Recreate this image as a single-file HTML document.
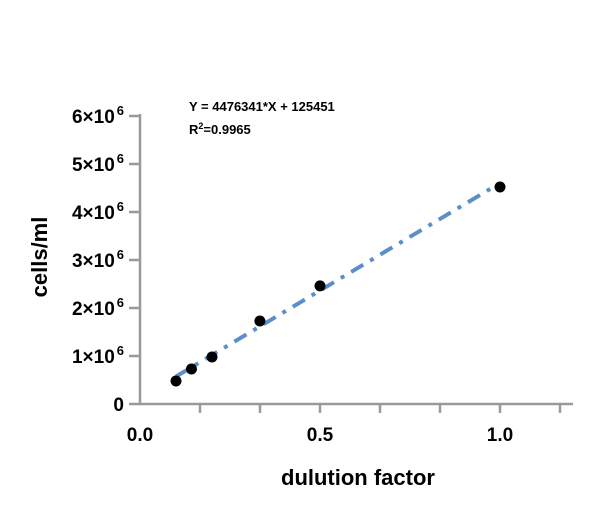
<!DOCTYPE html>
<html><head><meta charset="utf-8"><style>
body{margin:0;background:#fff;}
svg{display:block;font-family:"Liberation Sans",Arial,sans-serif;font-weight:bold;}
</style></head><body>
<svg id="chart" width="607" height="505">
<g id="axes"></g><g id="fit"></g><g id="pts"></g>
<text x="189" y="111" font-size="13" fill="#000">Y = 4476341*X + 125451</text>
<text x="189" y="134" font-size="13" fill="#000">R<tspan dy="-5" font-size="9">2</tspan><tspan dy="5">=0.9965</tspan></text>
<text x="358" y="485" font-size="22" text-anchor="middle">dulution factor</text>
<text transform="translate(47,257) rotate(-90)" font-size="22" text-anchor="middle">cells/ml</text>
</svg>
<script>
const xValues=[0.1,0.143,0.2,0.333,0.5,1.0];
const yValues=[0.48e6,0.73e6,0.98e6,1.73e6,2.46e6,4.52e6];
const yTicks=[0,1,2,3,4,5,6];
const xTickLabels=[0.0,0.5,1.0];
const fitSlope=4476341, fitIntercept=125451;
const sx=v=>140+v*360, sy=v=>404-v/1e6*48;
const NS="http://www.w3.org/2000/svg";
function mk(t,a,p){const e=document.createElementNS(NS,t);for(const k in a)e.setAttribute(k,a[k]);p.appendChild(e);return e;}
const ax=document.getElementById('axes');
let l=mk('line',{x1:140,y1:114,x2:140,y2:405,stroke:'#999','stroke-width':2.5},ax);


l=mk('line',{x1:139,y1:404,x2:573,y2:404,stroke:'#999','stroke-width':2.5},ax);


yTicks.forEach(t=>{
 const y=sy(t*1e6);
 const tk=mk('line',{x1:129,y1:y,x2:140,y2:y,stroke:'#999','stroke-width':2.5},ax);
 
 
 const tx=mk('text',{x:124,y:y+7,'font-size':19,'text-anchor':'end'},ax);
 
 
 if(t===0){tx.textContent='0';}
 else{tx.innerHTML=t+'\u00d710<tspan dx="2" dy="-8" font-size="13">6</tspan>';}
});
for(let i=1;i<=7;i++){
 const x=140+i*60;
 const tk=mk('line',{x1:x,y1:404,x2:x,y2:413,stroke:'#999','stroke-width':2.5},ax);
 
 
}
xTickLabels.forEach(v=>{
 const tx=mk('text',{x:sx(v),y:441,'font-size':19,'text-anchor':'middle'},ax);
 tx.textContent=v.toFixed(1);
 
 
});
const x0=Math.min(...xValues),x1=Math.max(...xValues);
const fl=mk('line',{x1:sx(x0),y1:sy(fitSlope*x0+fitIntercept),x2:sx(x1),y2:sy(fitSlope*x1+fitIntercept),stroke:'#5b8fc9','stroke-width':4,'stroke-dasharray':'14 8 4 8'},document.getElementById('fit'));


xValues.forEach((v,i)=>{
 const c=mk('circle',{cx:sx(v),cy:sy(yValues[i]),r:5.5,fill:'#000'},document.getElementById('pts'));
 
 
});
</script>
</body></html>
